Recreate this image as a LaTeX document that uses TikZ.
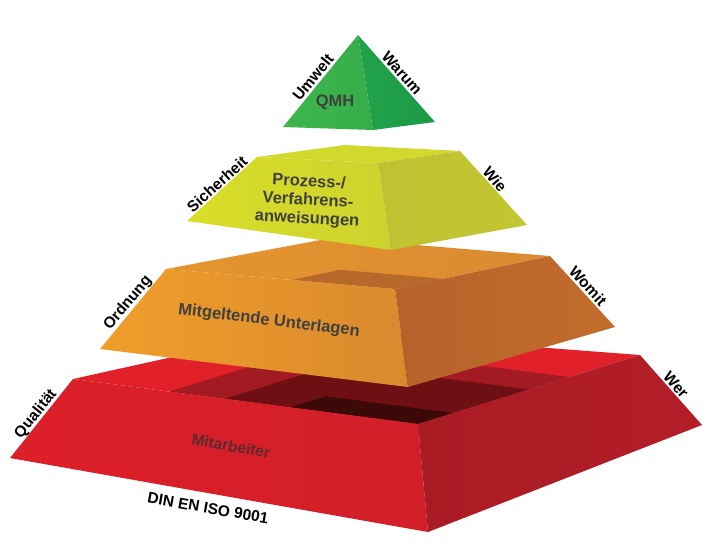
\documentclass[tikz,border=0pt]{standalone}
\usepackage{fontspec}
\setmainfont{Liberation Sans}
\definecolor{gFront}{HTML}{3DB64B}
\definecolor{gFront2}{HTML}{35AE4A}
\definecolor{gRight}{HTML}{22A24A}
\definecolor{gRight2}{HTML}{1C9A46}
\definecolor{yTop}{HTML}{D3D82D}
\definecolor{yFrontL}{HTML}{D9DE28}
\definecolor{yFrontR}{HTML}{CDD32E}
\definecolor{yRightL}{HTML}{BFC332}
\definecolor{yRightR}{HTML}{C3C630}
\definecolor{oTop}{HTML}{DB8A30}
\definecolor{oTopL}{HTML}{E4952F}
\definecolor{oShadow}{HTML}{B7682B}
\definecolor{oFrontL}{HTML}{F09E2A}
\definecolor{oFrontR}{HTML}{DA892E}
\definecolor{oRightL}{HTML}{B6622B}
\definecolor{oRightR}{HTML}{C26C2C}
\definecolor{rTop}{HTML}{E2202A}
\definecolor{rShA}{HTML}{A21A22}
\definecolor{rShB}{HTML}{6E0F13}
\definecolor{rShC}{HTML}{3C0909}
\definecolor{rFrontL}{HTML}{DD1F28}
\definecolor{rFrontR}{HTML}{D11F2A}
\definecolor{rRightL}{HTML}{A91C24}
\definecolor{rRightR}{HTML}{B31E28}
\definecolor{lblGray}{HTML}{404040}
\definecolor{lblRed}{HTML}{5A2A30}
\begin{document}
\begin{tikzpicture}[x=1pt,y=-1pt,
  sidelbl/.style={font=\bfseries\fontsize{15.5}{18}\selectfont, text=black, inner sep=0pt},
  facelbl/.style={font=\bfseries\fontsize{16.5}{18.5}\selectfont, text=lblGray, inner sep=0pt, align=center}]
\useasboundingbox (0,0) rectangle (710,550);
\fill[white] (0,0) rectangle (710,550);

% ---------- red (bottom) ----------
\coordinate (RL) at (73,379);  \coordinate (RB) at (299,329);
\coordinate (RR) at (640,355); \coordinate (RF) at (418,424);
\coordinate (RBL) at (10,458); \coordinate (RBF) at (428,532);
\coordinate (RBR) at (702,425);
\fill[rTop] (RL) -- (RB) -- (RR) -- (RF) -- cycle;
\fill[rShA] (RF) -- (169.6,391.6) -- (320.6,344.7) -- (569,377.1) -- cycle;
\fill[rShB] (RF) -- (224.8,398.8) -- (335.8,364.3) -- (529,389.5) -- cycle;
\fill[rShC] (RF) -- (290.3,407.3) -- (325.8,396.3) -- (453.5,413) -- cycle;
\shade[left color=rFrontL, right color=rFrontR] (RL) -- (RF) -- (RBF) -- (RBL) -- cycle;
\shade[left color=rRightL, right color=rRightR] (RF) -- (RR) -- (RBR) -- (RBF) -- cycle;

% ---------- orange ----------
\coordinate (OL) at (166,269);  \coordinate (OB) at (331,238);
\coordinate (OR) at (550,256);  \coordinate (OF) at (395,289);
\coordinate (OBL) at (100,349); \coordinate (OBF) at (408,387);
\coordinate (OBR) at (615,327);
\shade[left color=oTopL, right color=oTop] (OL) -- (OB) -- (OR) -- (OF) -- cycle;
\fill[oShadow] (OF) -- (292,280) -- (340,269.8) -- (443,278.8) -- cycle;
\shade[left color=oFrontL, right color=oFrontR] (OL) -- (OF) -- (OBF) -- (OBL) -- cycle;
\shade[left color=oRightL, right color=oRightR] (OF) -- (OR) -- (OBR) -- (OBF) -- cycle;

% ---------- yellow ----------
\coordinate (YL) at (257,157);  \coordinate (YB) at (345,145);
\coordinate (YR) at (460,151);  \coordinate (YF) at (378,163);
\coordinate (YBL) at (187,221); \coordinate (YBF) at (391,250);
\coordinate (YBR) at (527,225);
\fill[yTop] (YL) -- (YB) -- (YR) -- (YF) -- cycle;
\shade[left color=yFrontL, right color=yFrontR] (YL) -- (YF) -- (YBF) -- (YBL) -- cycle;
\shade[left color=yRightL, right color=yRightR] (YF) -- (YR) -- (YBR) -- (YBF) -- cycle;

% ---------- green ----------
\coordinate (GA) at (358,35);  \coordinate (GL) at (283,127);
\coordinate (GF) at (373,130); \coordinate (GR) at (435,122);
\shade[left color=gFront, right color=gFront2] (GA) -- (GL) -- (GF) -- cycle;
\shade[left color=gRight, right color=gRight2] (GA) -- (GF) -- (GR) -- cycle;

% ---------- face labels ----------
\node[facelbl, text=lblGray] (qmh) at (335,102) {QMH};
\node[facelbl, rotate=-3] (pva) at (308,201) {Prozess-/\\Verfahrens-\\anweisungen};
\node[facelbl, rotate=-7] (mgu) at (269,321) {Mitgeltende Unterlagen};
\node[facelbl, text=lblRed, font=\bfseries\fontsize{15.5}{18}\selectfont, rotate=-10] (mit) at (231,446) {Mitarbeiter};

% ---------- side labels ----------
\node[sidelbl, rotate=51]    (umw) at (313,77)  {Umwelt};
\node[sidelbl, rotate=-48.5] (war) at (402,73)  {Warum};
\node[sidelbl, rotate=42]    (sic) at (217,184) {Sicherheit};
\node[sidelbl, rotate=-50]   (wie) at (495,179) {Wie};
\node[sidelbl, rotate=50]    (ord) at (128,303) {Ordnung};
\node[sidelbl, rotate=-47.5] (wom) at (588,286) {Womit};
\node[sidelbl, rotate=51.5]  (qua) at (36,414)  {Qualität};
\node[sidelbl, rotate=-48.5] (wer) at (676,385) {Wer};
\node[sidelbl, rotate=-10]   (din) at (208,508) {DIN EN ISO 9001};
\end{tikzpicture}
\end{document}
